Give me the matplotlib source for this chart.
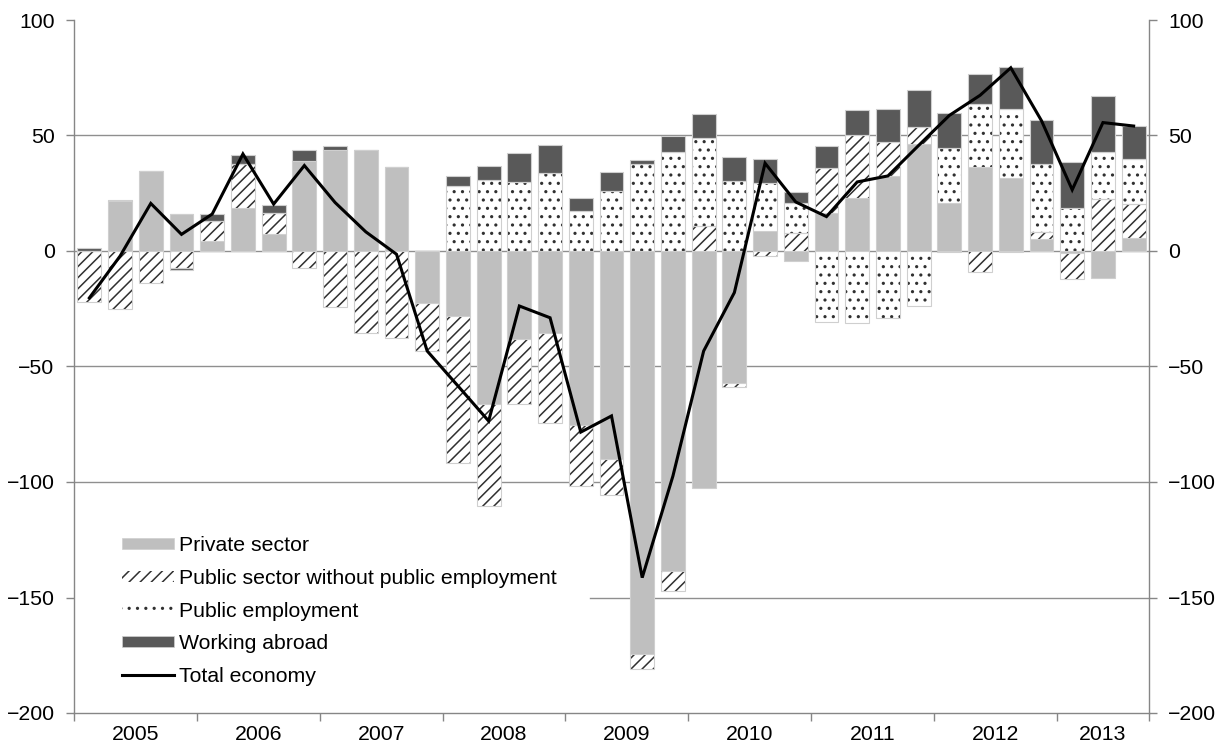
import matplotlib
matplotlib.use("Agg")
import matplotlib.pyplot as plt
from matplotlib.patches import Patch
from matplotlib.lines import Line2D
import numpy as np

plt.rcParams['font.family'] = ['Liberation Sans', 'DejaVu Sans']
plt.rcParams['hatch.linewidth'] = 1.1

years = ['2005', '2006', '2007', '2008', '2009', '2010', '2011', '2012', '2013']
quarters_per_year = [4, 4, 4, 4, 4, 4, 4, 4, 3]

private = [0, 21.7, 34.5, 16, 4.3, 18.4, 7.2, 39, 43.9, 43.6, 36.2, -22.6,
           -28.1, -66.4, -38.2, -35.4, -75.5, -89.9, -174.6, -138.5, -102.5, -57.2,
           8.7, -4.3, 16.6, 22.8, 32.5, 46.2, 20.6, 36.5, 31.5, 5, -1, -11.6, 5.8]
public_wo = [-22, -25, -14, -7.2, 8.6, 19.3, 9.1, -7.2, -24.3, -35.5, -37.7, -20.9,
             -63.8, -44, -28.2, -39.2, -26.2, -15.9, -6.2, -8.7, 10.8, -1.8,
             -2.2, 8, 19.3, 27.4, 14.9, 7.5, -0.5, -9, -0.5, 3.2, -11, 22.5, 14.5]
public_emp = [0, 0, 0, 0, 0, 0, 0, 0, 0, 0, 0, 0,
              28.3, 30.7, 30, 33.9, 17.2, 25.8, 37.5, 43, 38.2, 30.3,
              20.6, 12.7, -30.6, -31.3, -29, -23.8, 24.1, 27.2, 30, 29.4, 18.4, 20.5, 19.6]
abroad = [1.5, 0.4, 0.3, -1.2, 3, 4, 3.5, 4.9, 1.6, 0, 0, 0,
          4.3, 6.1, 12.6, 12, 5.9, 8.4, 1.9, 6.8, 10.1, 10.4,
          10.4, 4.9, 9.4, 10.8, 14, 16.2, 15.2, 13, 18.1, 19.2, 20, 24, 14.2]
total = [-20.3, -2.2, 20.6, 7.2, 16, 42, 20.3, 37, 21, 8.3, -1.4, -43.3,
         -58.4, -73.6, -23.8, -28.9, -78.4, -71.4, -141.4, -97.4, -43.3, -18,
         38, 21.2, 14.9, 29.9, 32.5, 45.7, 58.7, 67.4, 79.3, 56.4, 26.5, 55.6, 54.1]

labels = ['Private sector', 'Public sector without public employment',
          'Public employment', 'Working abroad', 'Total economy']

FS = 15.3
n = len(total)
x = np.arange(n)

fig = plt.figure(figsize=(12.18, 7.47), dpi=100)
ax = fig.add_axes([74/1218, 1-713/747, (1149-74)/1218, (713-20)/747])

grid_c = '#8f8f8f'
for v in [-100, -50, 0, 50]:
    ax.axhline(v, color=grid_c, lw=1.0, zorder=0)
ax.axhline(-150, xmin=0.48, color=grid_c, lw=1.0, zorder=0)

edge_c = '#cfcfcf'
width = 0.78
styles = [
    dict(color='#bfbfbf', hatch=None),
    dict(color='white', hatch='///'),
    dict(color='white', hatch='..'),
    dict(color='#595959', hatch=None),
]
series = [private, public_wo, public_emp, abroad]
pos = np.zeros(n)
neg = np.zeros(n)
for vals, st in zip(series, styles):
    v = np.array(vals, dtype=float)
    bottom = np.where(v >= 0, pos, neg)
    if st['hatch']:
        ax.bar(x, v, width, bottom=bottom, color=st['color'], edgecolor='#303030',
               hatch=st['hatch'], linewidth=0, zorder=2)
        ax.bar(x, v, width, bottom=bottom, fill=False, edgecolor=edge_c,
               linewidth=0.8, zorder=2.5)
    else:
        ax.bar(x, v, width, bottom=bottom, color=st['color'], edgecolor=edge_c,
               linewidth=0.8, zorder=2)
    pos = pos + np.where(v >= 0, v, 0)
    neg = neg + np.where(v < 0, v, 0)

ax.plot(x, total, color='black', lw=2.2, zorder=5, solid_joinstyle='miter')

ax.set_xlim(-0.5, n - 0.5)
ax.set_ylim(-200, 100)
ax.set_yticks(np.arange(-200, 101, 50))

bounds = np.concatenate([[0], np.cumsum(quarters_per_year)]) - 0.5
centers = (bounds[:-1] + bounds[1:]) / 2
ax.set_xticks(bounds)
ax.set_xticklabels([])
ax.set_xticks(centers, minor=True)
ax.set_xticklabels(years, minor=True)
ax.tick_params(axis='x', which='major', length=6, width=1, color='#868686', direction='out')
ax.tick_params(axis='x', which='minor', length=0, pad=9, labelsize=FS)
ax.tick_params(axis='y', which='major', length=6, width=1, color='#868686', direction='out',
               left=True, right=True, labelleft=True, labelright=True, labelsize=FS, pad=8)

for s in ['left', 'right', 'bottom']:
    ax.spines[s].set_color('#868686')
    ax.spines[s].set_linewidth(1.0)
ax.spines['top'].set_visible(False)

handles = [
    Patch(facecolor='#bfbfbf', edgecolor=edge_c, lw=0.5),
    Patch(facecolor='white', edgecolor='#303030', hatch='///', lw=0),
    Patch(facecolor='white', edgecolor='#303030', hatch='..', lw=0),
    Patch(facecolor='#595959', edgecolor=edge_c, lw=0.5),
    Line2D([0], [0], color='black', lw=2.2),
]
leg = ax.legend(handles, labels, loc='upper left', bbox_to_anchor=(115.5/1218, 1-530/747),
                bbox_transform=fig.transFigure, frameon=False, fontsize=FS,
                handlelength=2.43, handleheight=0.42, handletextpad=0.24,
                labelspacing=0.64, borderpad=0.3, borderaxespad=0)

fig.savefig('out.png', dpi=100)
